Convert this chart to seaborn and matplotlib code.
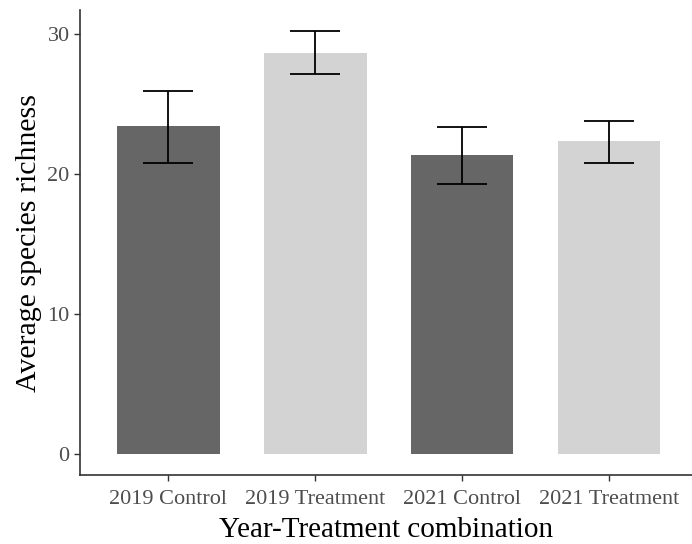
import matplotlib
matplotlib.use("Agg")
import matplotlib.pyplot as plt
import seaborn as sns
import pandas as pd

categories = ["2019 Control", "2019 Treatment", "2021 Control", "2021 Treatment"]
means = [23.43, 28.64, 21.36, 22.36]
lower = [20.79, 27.14, 19.29, 20.79]
upper = [25.93, 30.21, 23.36, 23.79]
colors = ["#666666", "#D3D3D3", "#666666", "#D3D3D3"]

sns.set_theme(style="ticks")
plt.rcParams['font.family'] = ['Liberation Serif', 'DejaVu Serif']

df = pd.DataFrame({"combo": categories, "mean": means, "lo": lower, "hi": upper})

fig = plt.figure(figsize=(6.92, 5.44), dpi=100)
ax = fig.add_axes([80/692, 69/544, 1 - 80/692, (475 - 10)/544])

sns.barplot(data=df, x="combo", y="mean", hue="combo", palette=colors,
            order=categories, legend=False, width=0.7, errorbar=None,
            saturation=1, ax=ax, linewidth=0)

x = list(range(len(categories)))
ax.errorbar(x, df["mean"], yerr=[df["mean"] - df["lo"], df["hi"] - df["mean"]],
            fmt="none", ecolor="black", elinewidth=1.3, capsize=18, capthick=1.3)

ax.set_xlim(-0.6, 3.565)
ax.set_ylim(-1.51, 31.72)
ax.set_yticks([0, 10, 20, 30])
ax.set_xlabel("Year-Treatment combination", fontsize=21, color="black", labelpad=6)
ax.set_ylabel("Average species richness", fontsize=21.5, color="black", labelpad=4)
ax.tick_params(axis="both", colors="#333333", labelcolor="#4D4D4D", labelsize=16,
               length=4.5, width=1, direction="out", pad=3)
ax.tick_params(axis="x", pad=6)
for s in ["top", "right"]:
    ax.spines[s].set_visible(False)
for s in ["left", "bottom"]:
    ax.spines[s].set_color("#333333")
    ax.spines[s].set_linewidth(1.2)

fig.savefig("out.png", dpi=100)
